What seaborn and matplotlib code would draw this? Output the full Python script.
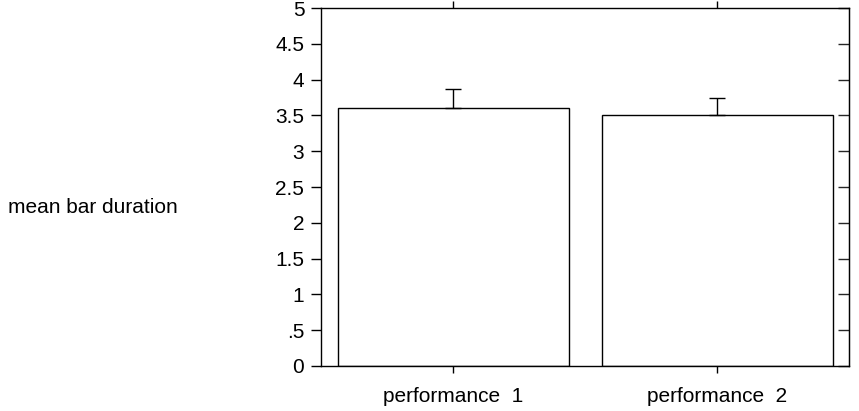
import matplotlib
matplotlib.use("Agg")
import matplotlib.pyplot as plt
import seaborn as sns
import pandas as pd

categories = ["performance  1", "performance  2"]
means = [3.6, 3.5]
errors = [0.27, 0.25]
ytick_values = [0, 0.5, 1, 1.5, 2, 2.5, 3, 3.5, 4, 4.5, 5]
ytick_labels = ["0", ".5", "1", "1.5", "2", "2.5", "3", "3.5", "4", "4.5", "5"]

sns.set_style("ticks")
plt.rcParams["font.family"] = ["Liberation Sans", "DejaVu Sans"]

df = pd.DataFrame({"condition": categories, "duration": means})

fig = plt.figure(figsize=(8.59, 4.11), dpi=100)
ax = fig.add_axes([0.3737, 0.1095, 0.6147, 0.871])

sns.barplot(data=df, x="condition", y="duration", ax=ax, color="white",
            edgecolor="black", linewidth=1.0, width=0.875, errorbar=None)

# one-sided error bars above each bar
ax.errorbar(x=range(len(means)), y=means, yerr=[[0] * len(errors), errors],
            fmt="none", ecolor="black", elinewidth=1.0, capsize=6, capthick=1.0)

ax.set_xlim(-0.5, 1.5)
ax.set_ylim(0, 5)
ax.set_yticks(ytick_values)
ax.set_yticklabels(ytick_labels)
ax.set_xlabel("")
ax.set_ylabel("")

for side in ["left", "right", "top", "bottom"]:
    ax.spines[side].set_visible(True)
    ax.spines[side].set_linewidth(1.0)
    ax.spines[side].set_color("black")

ax.tick_params(axis="y", which="both", left=True, right=False, direction="out",
               length=7, width=1, labelsize=15, pad=5, colors="black")
ax.tick_params(axis="x", which="both", bottom=True, top=True, direction="out",
               length=5, width=1, labelsize=15, pad=10, colors="black")

# right-side ticks point inward
ax2 = ax.secondary_yaxis("right")
ax2.set_yticks(ytick_values)
ax2.tick_params(direction="in", length=8, width=1, labelright=False)

fig.text(8 / 859, 1 - 207 / 411, "mean bar duration", fontsize=15,
         ha="left", va="center", color="black")

fig.savefig("out.png", dpi=100)
